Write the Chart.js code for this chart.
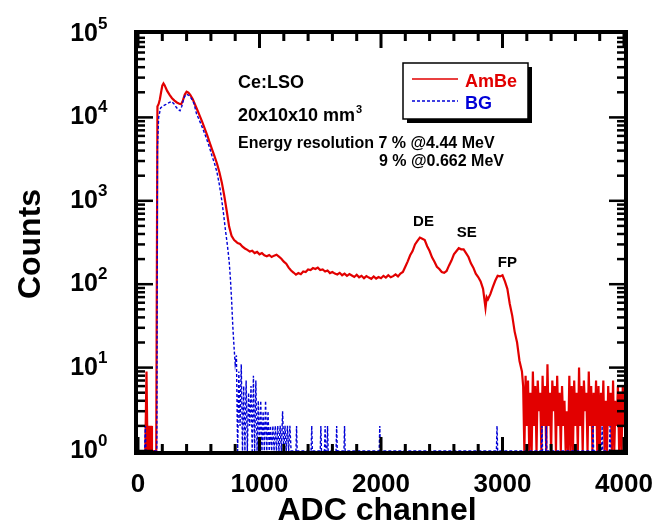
<!DOCTYPE html>
<html>
<head>
<meta charset="utf-8">
<title>Ce:LSO AmBe spectrum</title>
<script src="https://cdn.jsdelivr.net/npm/chart.js@4"></script>
<style>
  html, body { margin: 0; padding: 0; background: #fff; }
  #wrap { width: 666px; height: 522px; }
</style>
</head>
<body>
<div id="wrap"><canvas id="spectrum" width="666" height="522"></canvas></div>
<script>
// series names
const seriesLabels = ['AmBe', 'BG']

// x axis / y axis ticks
const xTickValues = [0, 1000, 2000, 3000, 4000]
const yTickPowers = [0, 1, 2, 3, 4, 5]

// AmBe spectrum, [ADC channel, counts]
const ambeSpectrum = [
  [0, 0], [10, 0], [20, 0], [30, 0], [40, 0], [50, 0], [60, 0], [70, 9], [78, 0], [85, 2], [90, 0],
  [97, 2], [102, 0], [110, 2], [115, 0], [150, 0], [155, 0],
  [160, 13500], [170, 14500], [180, 16500], [190, 20000], [200, 24000], [210, 25500], [220, 24200],
  [230, 22300], [240, 20800], [260, 18600], [280, 17000], [300, 15900], [320, 15100], [340, 14600],
  [355, 14400], [370, 16000], [385, 18800], [400, 20300], [415, 19800], [430, 18600], [450, 16600],
  [470, 14200], [490, 12100], [510, 10300], [530, 8700], [550, 7300], [570, 6100], [590, 5000],
  [610, 4100], [630, 3400], [650, 2800], [670, 2200], [690, 1650], [710, 1150], [730, 760],
  [750, 490], [770, 380], [790, 340],
  [800, 330], [820, 312], [840, 304], [860, 282], [880, 268], [900, 258], [920, 246], [940, 252],
  [960, 236], [980, 244], [1000, 228], [1020, 236], [1040, 222], [1060, 216], [1080, 224], [1100, 212],
  [1120, 220], [1140, 226], [1160, 214], [1180, 202], [1200, 186], [1220, 176], [1240, 158], [1260, 146],
  [1280, 138], [1300, 130], [1320, 136], [1340, 132], [1360, 142], [1380, 140], [1400, 150], [1420, 148],
  [1440, 156], [1460, 152], [1480, 158], [1500, 148], [1520, 150], [1540, 142], [1560, 146], [1580, 136],
  [1600, 140], [1620, 134], [1640, 131], [1660, 137], [1680, 128], [1700, 134], [1720, 126], [1740, 132],
  [1760, 127], [1780, 122], [1800, 130], [1820, 121], [1840, 126], [1860, 118], [1880, 125], [1900, 120],
  [1920, 116], [1940, 124], [1960, 117], [1980, 122], [2000, 118], [2020, 126], [2040, 120], [2060, 128],
  [2080, 121], [2100, 125], [2120, 131], [2140, 124], [2160, 134], [2180, 140], [2200, 162], [2220, 188],
  [2240, 222], [2260, 250], [2280, 300], [2300, 330], [2320, 362], [2340, 350], [2360, 338], [2380, 285],
  [2400, 250], [2420, 210], [2440, 186], [2460, 162], [2480, 152], [2500, 140], [2520, 137], [2540, 144],
  [2560, 168], [2580, 192], [2600, 228], [2620, 248], [2640, 270], [2660, 262], [2680, 262], [2700, 236],
  [2720, 212], [2740, 178], [2760, 158], [2780, 134], [2800, 122], [2820, 108], [2840, 88], [2860, 52],
  [2870, 70], [2880, 66], [2900, 76], [2920, 92], [2940, 110], [2960, 126], [2980, 124], [3000, 128],
  [3020, 108], [3040, 88], [3060, 58], [3080, 42], [3100, 27], [3120, 20], [3140, 12], [3160, 9],
  [3170, 6], [3180, 0], [3190, 8], [3200, 2], [3210, 7], [3220, 0], [3230, 5], [3240, 1], [3250, 9],
  [3260, 2], [3270, 6], [3280, 0], [3290, 7], [3300, 3], [3310, 5], [3320, 0], [3330, 8], [3340, 2],
  [3350, 6], [3360, 1], [3370, 11], [3380, 2], [3390, 5], [3400, 0], [3410, 7], [3420, 3], [3430, 6],
  [3440, 1], [3450, 8], [3460, 2], [3470, 5], [3480, 0], [3490, 6], [3500, 2], [3510, 4], [3520, 1],
  [3530, 3], [3540, 0], [3550, 8], [3560, 1], [3570, 6], [3580, 0], [3590, 7], [3600, 2], [3610, 5],
  [3620, 1], [3630, 10], [3640, 2], [3650, 6], [3660, 0], [3670, 7], [3680, 3], [3690, 5], [3700, 1],
  [3710, 9], [3720, 2], [3730, 6], [3740, 0], [3750, 5], [3760, 2], [3770, 7], [3780, 1], [3790, 6],
  [3800, 0], [3810, 5], [3820, 2], [3830, 7], [3840, 1], [3850, 4], [3860, 0], [3870, 6], [3880, 2],
  [3890, 5], [3900, 1], [3910, 7], [3920, 0], [3930, 4], [3940, 2], [3950, 6], [3960, 1], [3970, 5],
  [3980, 0], [3990, 6], [4000, 2],
]

// background spectrum, [ADC channel, counts]
const bgSpectrum = [
  [0, 0], [55, 0], [60, 2], [65, 0], [150, 0], [155, 0],
  [160, 4400], [170, 10000], [186, 13000], [208, 13800], [230, 14300], [255, 15000], [276, 15500],
  [295, 14600], [315, 13200], [335, 12300], [346, 12000], [360, 13500], [375, 16500], [390, 18500],
  [400, 19000], [420, 18300], [440, 16800], [460, 14800], [482, 11000], [500, 9600], [520, 8200],
  [540, 6900], [565, 5500], [590, 4300], [610, 3400], [630, 2800], [650, 2200], [670, 1550],
  [690, 1000], [705, 680], [720, 440], [735, 300], [750, 190], [760, 120], [770, 66], [780, 32],
  [790, 18], [800, 11],
  [810, 14], [820, 0], [830, 9], [840, 2], [850, 11], [860, 0], [870, 6], [880, 1], [890, 7], [900, 0],
  [910, 5], [920, 2], [930, 6], [940, 0], [950, 8], [960, 1], [970, 7], [980, 0], [990, 4], [1000, 1],
  [1010, 4], [1020, 0], [1030, 3], [1040, 1], [1050, 4], [1060, 0], [1070, 3], [1080, 1], [1090, 2],
  [1100, 0], [1110, 2], [1120, 1], [1130, 2], [1140, 0], [1150, 2], [1160, 1], [1170, 2], [1180, 0],
  [1190, 3], [1200, 0], [1210, 2], [1220, 0], [1230, 2], [1240, 0], [1250, 2], [1260, 0],
  [1300, 0], [1305, 2], [1310, 0], [1425, 0], [1430, 2], [1435, 0], [1500, 0], [1505, 2], [1510, 0],
  [1535, 0], [1540, 2], [1545, 0], [1555, 0], [1560, 2], [1565, 0], [1630, 0], [1635, 2], [1640, 0],
  [1695, 0], [1700, 2], [1705, 0], [1985, 0], [1990, 2], [1995, 0], [2950, 0], [2955, 2], [2960, 0],
  [3320, 0], [3325, 2], [3330, 0], [3355, 0], [3360, 2], [3365, 0], [3740, 0], [3745, 2], [3750, 0],
  [3815, 0], [3820, 2], [3825, 0], [3880, 0], [3885, 2], [3890, 0], [4000, 0],
]

const RED = 'rgb(226, 0, 0)'
const BLUE = 'rgb(0, 0, 215)'
const FONT = '"Liberation Sans", Arial, Helvetica, sans-serif'

// frame, inward ticks, labels, legend and notes
const framePlugin = {
  id: 'framePlugin',
  afterDraw(chart) {
    const { ctx, chartArea: a, scales: { x, y } } = chart
    ctx.save()
    ctx.fillStyle = '#000'
    ctx.strokeStyle = '#000'

    // x ticks every 200, longer at 1000
    for (let v = 0; v <= 4000; v += 200) {
      const px = x.getPixelForValue(v)
      const len = v % 1000 === 0 ? 14 : 7
      ctx.fillRect(px - 1.5, a.bottom - len, 3, len)
      ctx.fillRect(px - 1.5, a.top, 3, len)
    }
    // y ticks at 1..9 x 10^n
    for (let p = 0; p < 5; p++) {
      for (let m = 1; m <= 9; m++) {
        const py = y.getPixelForValue(m * Math.pow(10, p))
        const len = m === 1 ? 15 : 7
        ctx.fillRect(a.left, py - 1.25, len, 2.5)
        ctx.fillRect(a.right - len, py - 1.25, len, 2.5)
      }
    }

    ctx.lineWidth = 4
    ctx.strokeRect(a.left - 2, a.top - 2, a.right - a.left + 4, a.bottom - a.top + 4)

    // tick labels
    ctx.textBaseline = 'alphabetic'
    ctx.font = `bold 26px ${FONT}`
    ctx.textAlign = 'center'
    xTickValues.forEach((v) => ctx.fillText(String(v), x.getPixelForValue(v), 492))
    yTickPowers.forEach((p) => {
      const py = y.getPixelForValue(Math.pow(10, p))
      ctx.font = `bold 25px ${FONT}`
      ctx.textAlign = 'right'
      ctx.fillText('10', 98, py + 7)
      ctx.font = `bold 17px ${FONT}`
      ctx.textAlign = 'left'
      ctx.fillText(String(p), 98, py - 5)
    })

    // axis titles
    ctx.font = `bold 32px ${FONT}`
    ctx.textAlign = 'center'
    ctx.fillText('ADC channel', 377, 520)
    ctx.save()
    ctx.translate(40, 244)
    ctx.rotate(-Math.PI / 2)
    ctx.fillText('Counts', 0, 0)
    ctx.restore()

    // notes
    ctx.textAlign = 'left'
    ctx.font = `bold 18px ${FONT}`
    ctx.fillText('Ce:LSO', 238, 88)
    ctx.fillText('20x10x10 mm', 238, 121)
    const w = ctx.measureText('20x10x10 mm').width
    ctx.font = `bold 11px ${FONT}`
    ctx.fillText('3', 238 + w + 1, 113)
    ctx.font = `bold 16px ${FONT}`
    ctx.fillText('Energy resolution 7 % @4.44 MeV', 238, 148)
    ctx.fillText('9 % @0.662 MeV', 379, 166)

    // peak names
    ctx.font = `bold 15px ${FONT}`
    ctx.textAlign = 'center'
    ;[['DE', 2350, 500], ['SE', 2705, 368], ['FP', 3040, 161]].forEach(([t, ch, c]) => {
      ctx.fillText(t, x.getPixelForValue(ch), y.getPixelForValue(c))
    })

    // legend box with shadow
    ctx.fillRect(407, 67, 125, 56)
    ctx.fillStyle = '#fff'
    ctx.fillRect(403, 63, 125, 56)
    ctx.lineWidth = 1.5
    ctx.strokeRect(403, 63, 125, 56)
    const ds = chart.data.datasets
    ;[79, 101].forEach((ly, i) => {
      ctx.strokeStyle = ds[i].borderColor
      ctx.lineWidth = 1.5
      ctx.setLineDash(ds[i].borderDash || [])
      ctx.beginPath()
      ctx.moveTo(412, ly)
      ctx.lineTo(458, ly)
      ctx.stroke()
      ctx.setLineDash([])
      ctx.fillStyle = ds[i].borderColor
      ctx.font = `bold 18px ${FONT}`
      ctx.textAlign = 'left'
      ctx.fillText(ds[i].label, 465, ly + 8)
    })
    ctx.restore()
  },
}

const ctx = document.getElementById('spectrum').getContext('2d')
new Chart(ctx, {
  type: 'line',
  data: {
    datasets: [
      {
        label: seriesLabels[0],
        data: ambeSpectrum.map(([ch, c]) => ({ x: ch, y: c })),
        borderColor: RED,
        borderWidth: 2.2,
        pointRadius: 0,
        tension: 0,
        order: 2,
      },
      {
        label: seriesLabels[1],
        data: bgSpectrum.map(([ch, c]) => ({ x: ch, y: c })),
        borderColor: BLUE,
        borderWidth: 1.4,
        borderDash: [3, 2],
        pointRadius: 0,
        tension: 0,
        order: 1,
      },
    ],
  },
  options: {
    responsive: false,
    animation: false,
    devicePixelRatio: 1,
    parsing: false,
    layout: { padding: { left: 138, right: 42, top: 34, bottom: 71 } },
    scales: {
      x: { type: 'linear', min: 0, max: 4000, display: false },
      y: { type: 'logarithmic', min: 1, max: 100000, display: false },
    },
    plugins: {
      legend: { display: false },
      tooltip: { enabled: false },
    },
  },
  plugins: [framePlugin],
})
</script>
</body>
</html>
